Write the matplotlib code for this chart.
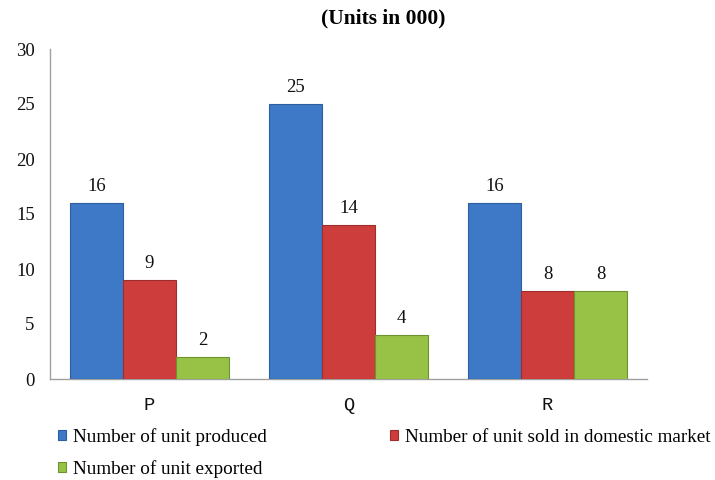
import matplotlib
matplotlib.use("Agg")
import matplotlib.pyplot as plt
import numpy as np

categories = ["P", "Q", "R"]
produced = [16, 25, 16]
sold_domestic = [9, 14, 8]
exported = [2, 4, 8]
series_names = ["Number of unit produced", "Number of unit sold in domestic market", "Number of unit exported"]
title = "(Units in 000)"

colors = ["#3D79C7", "#CD3D3B", "#97C246"]
edges = ["#2E5E9E", "#9E2E2C", "#6F9230"]

serif = ["Liberation Serif", "DejaVu Serif"]
plt.rcParams["font.family"] = serif

fig = plt.figure(figsize=(7.15, 4.8), dpi=100)
ax = fig.add_axes([50/715, 1-379/480, 597/715, 330/480])

x = np.arange(len(categories))
w = 0.8/3
bars = []
for i, (vals, c, e) in enumerate(zip([produced, sold_domestic, exported], colors, edges)):
    b = ax.bar(x + (i-1)*w, vals, width=w, color=c, edgecolor=e, linewidth=0.8, label=series_names[i], zorder=3)
    bars.append(b)
    for xi, v in zip(x + (i-1)*w, vals):
        ax.annotate(str(v), (xi, v), xytext=(0, 6), textcoords="offset points",
                    ha="center", va="bottom", fontsize=13.5, color="#111111")

ax.set_xlim(-0.5, 2.5)
ax.set_ylim(0, 30)
ax.set_yticks([0, 5, 10, 15, 20, 25, 30])
ax.set_xticks(x)
ax.set_xticklabels(categories, family=["Liberation Mono", "DejaVu Sans Mono"], fontsize=13)
ax.tick_params(axis="both", length=0, labelsize=13.5, colors="#111111")
ax.tick_params(axis="x", pad=13)
ax.tick_params(axis="y", pad=11)
for s in ["top", "right"]:
    ax.spines[s].set_visible(False)
for s in ["left", "bottom"]:
    ax.spines[s].set_color("#A0A0A0")
    ax.spines[s].set_linewidth(1.0)

fig.text(383/715, 1-18/480, title, ha="center", va="center", fontsize=15.5, fontweight="bold")

handles = [bars[0], bars[2], bars[1]]
labels = [series_names[0], series_names[2], series_names[1]]
fig.legend(handles, labels, ncol=2, loc="upper left", bbox_to_anchor=(58/715, 1-428/480),
           frameon=False, fontsize=13.8, handlelength=0.42, handleheight=0.42,
           handletextpad=0.37, columnspacing=6.4, labelspacing=0.75, borderpad=0, borderaxespad=0)

fig.savefig("out.png", dpi=100)
